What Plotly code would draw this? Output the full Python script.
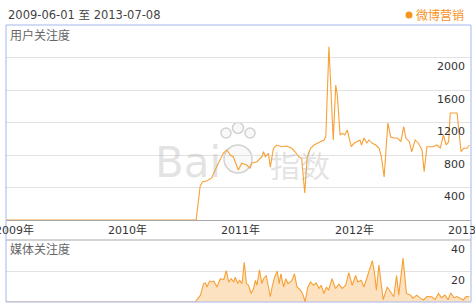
import plotly.graph_objects as go

# ---------------- data ----------------
user_dates = ["2009-06-01", "2011-02-08", "2011-02-21", "2011-03-01", "2011-03-14", "2011-03-25",
              "2011-03-30", "2011-04-15", "2011-04-26", "2011-05-07", "2011-05-18", "2011-05-29",
              "2011-06-08", "2011-06-24", "2011-07-05", "2011-07-21", "2011-08-01", "2011-08-06",
              "2011-08-23", "2011-09-08", "2011-09-13", "2011-09-19", "2011-09-29", "2011-10-05",
              "2011-10-15", "2011-10-26", "2011-11-11", "2011-11-27", "2011-12-13", "2011-12-24",
              "2012-01-05", "2012-01-14", "2012-01-24", "2012-02-01", "2012-02-12", "2012-02-23",
              "2012-03-05", "2012-03-15", "2012-03-26", "2012-04-01", "2012-04-11", "2012-04-25",
              "2012-05-03", "2012-05-08", "2012-05-17", "2012-05-24", "2012-06-01", "2012-06-09",
              "2012-06-15", "2012-06-22", "2012-07-01", "2012-07-12", "2012-07-20", "2012-07-25",
              "2012-08-02", "2012-08-11", "2012-08-18", "2012-08-29", "2012-09-09", "2012-09-20",
              "2012-09-27", "2012-10-06", "2012-10-18", "2012-10-27", "2012-11-06", "2012-11-18",
              "2012-11-29", "2012-12-08", "2012-12-15", "2012-12-26", "2013-01-03", "2013-01-14",
              "2013-01-24", "2013-02-05", "2013-02-12", "2013-02-21", "2013-03-03", "2013-03-13",
              "2013-03-25", "2013-04-05", "2013-04-15", "2013-04-24", "2013-05-02", "2013-05-07",
              "2013-05-29", "2013-06-03", "2013-06-11", "2013-06-19", "2013-06-30", "2013-07-08"]
user_values = [0, 0, 418, 471, 480, 501, 517, 656, 739, 825,
               862, 800, 776, 615, 698, 677, 636, 698, 718, 779,
               840, 779, 821, 650, 883, 923, 902, 911, 883, 840,
               779, 760, 332, 779, 883, 923, 944, 964, 985, 1025,
               2133, 985, 1662, 1539, 1046, 1067, 1046, 1108, 1025, 902,
               944, 964, 985, 923, 1009, 948, 985, 944, 923, 883,
               779, 529, 1194, 1022, 1009, 1009, 964, 1149, 1009, 964,
               840, 985, 948, 862, 595, 902, 902, 902, 923, 886,
               1046, 923, 964, 1317, 1317, 1108, 840, 883, 883, 923]

media_dates = ["2009-06-01", "2011-02-05", "2011-02-22", "2011-03-04", "2011-03-10", "2011-03-15",
               "2011-03-23", "2011-03-31", "2011-04-06", "2011-04-16", "2011-04-27", "2011-05-08",
               "2011-05-16", "2011-05-24", "2011-06-01", "2011-06-09", "2011-06-14", "2011-06-22",
               "2011-06-28", "2011-07-06", "2011-07-13", "2011-07-20", "2011-07-27", "2011-08-04",
               "2011-08-12", "2011-08-18", "2011-08-23", "2011-08-31", "2011-09-08", "2011-09-13",
               "2011-09-22", "2011-09-29", "2011-10-05", "2011-10-12", "2011-10-19", "2011-10-27",
               "2011-11-03", "2011-11-08", "2011-11-17", "2011-11-24", "2011-12-01", "2011-12-08",
               "2011-12-14", "2011-12-22", "2011-12-30", "2012-01-11", "2012-01-19", "2012-01-25",
               "2012-02-03", "2012-02-12", "2012-02-22", "2012-03-01", "2012-03-10", "2012-03-17",
               "2012-03-26", "2012-04-03", "2012-04-10", "2012-04-21", "2012-05-02", "2012-05-13",
               "2012-05-24", "2012-06-04", "2012-06-14", "2012-06-25", "2012-07-06", "2012-07-13",
               "2012-07-24", "2012-08-02", "2012-08-18", "2012-08-29", "2012-09-05", "2012-09-11",
               "2012-09-19", "2012-10-03", "2012-10-16", "2012-10-27", "2012-11-06", "2012-11-15",
               "2012-11-22", "2012-12-06", "2012-12-17", "2012-12-30", "2013-01-07", "2013-01-19",
               "2013-01-30", "2013-02-10", "2013-02-21", "2013-03-09", "2013-03-19", "2013-03-30",
               "2013-04-09", "2013-04-20", "2013-04-30", "2013-05-09", "2013-05-19", "2013-05-29",
               "2013-06-08", "2013-06-18", "2013-06-28", "2013-07-08"]
media_values = [0, 0, 4.4, 11.9, 12.3, 9.7, 13.5, 12.9, 13.5, 9.7, 15, 14.4,
                20.3, 12.9, 15, 12.9, 16, 11.9, 14, 11.9, 25.6, 11.9, 10.8, 5.5,
                8.7, 14, 10.8, 20.7, 11.9, 15, 17.1, 9.7, 3.4, 10.8, 16, 19.9,
                11.9, 18.2, 9.7, 15, 11.9, 12.9, 14, 18.2, 9.7, 7.6, 4.4, 0,
                9.7, 12.9, 10.8, 12.3, 8.7, 10.8, 5.5, 9.7, 7.6, 15, 8.7, 11.5,
                8.7, 10.8, 18.9, 10.8, 17.1, 12.9, 14, 9.7, 20.3, 26.7, 18.6, 7.6,
                23.9, 1.5, 9.7, 6.5, 3.4, 17.1, 4.4, 28.3, 5.5, 4.4, 2.5, 4.4,
                2.5, 1.3, 3.5, 3.4, 1.5, 5.5, 2.8, 4.5, 1.5, 5.8, 2.8, 3.5,
                2.5, 1.3, 3.5, 3.4]

year_ticks = ["2009-07-02", "2010-07-02", "2011-07-02", "2012-07-02", "2013-07-02"]
year_labels = ["2009年", "2010年", "2011年", "2012年", "2013年"]
user_ticks = [400, 800, 1200, 1600, 2000]
media_ticks = [20, 40]
date_range_text = "2009-06-01 至 2013-07-08"
series_name = "微博营销"

# ---------------- style ----------------
LINE = "#f7a035"
FILL = "#fde2c1"
GRID = "#e2e2e2"
FRAME = "#a4b7ec"
AXIS = "#a8a8a8"
NUM_FONT = dict(family="DejaVu Sans, Noto Sans CJK SC", size=11, color="#333333")
CJK = "Noto Sans CJK SC, DejaVu Sans"

W, H = 475, 307
ML, MR, MT, MB = 6, 4, 25, 5
PW, PH = W - ML - MR, H - MT - MB


def px(x):
    return (x - ML) / PW


def py(y):
    return (H - MB - y) / PH


x_range = ["2009-06-05", "2013-07-13"]
minor_grid = dict(tick0="2010-01-01", dtick="M12", showgrid=True, gridcolor=GRID, gridwidth=1, ticks="")

fig = go.Figure()
fig.add_trace(go.Scatter(x=user_dates, y=user_values, mode="lines", name=series_name,
                         line=dict(color=LINE, width=1.1), xaxis="x", yaxis="y", hoverinfo="skip"))
fig.add_trace(go.Scatter(x=media_dates, y=media_values, mode="lines", name=series_name,
                         line=dict(color=LINE, width=1.1), fill="tozeroy", fillcolor=FILL,
                         xaxis="x2", yaxis="y2", hoverinfo="skip"))

fig.update_layout(
    width=W, height=H, margin=dict(l=ML, r=MR, t=MT, b=MB, autoexpand=False),
    paper_bgcolor="white", plot_bgcolor="white", showlegend=False,
    xaxis=dict(domain=[0, 1], anchor="y", type="date", range=x_range, automargin=False,
               showticklabels=False,
               showgrid=False, ticks="", showline=True, linecolor=AXIS, linewidth=1,
               zeroline=False, minor=minor_grid),
    yaxis=dict(domain=[py(220), 1], anchor="x", range=[0, 2400], tickmode="array",
               automargin=False,
               tickvals=user_ticks, side="right", ticklabelposition="inside",
               ticklabelshift=9, ticklabelstandoff=3, ticks="",
               showgrid=True, gridcolor=GRID, zeroline=False, showline=False,
               tickfont=NUM_FONT),
    xaxis2=dict(domain=[0, 1], anchor="y2", type="date", range=x_range, automargin=False,
                showticklabels=False, showgrid=False, ticks="", showline=False,
                zeroline=False, minor=minor_grid),
    yaxis2=dict(domain=[0, py(240)], anchor="x2", range=[0, 40], tickmode="array",
                automargin=False,
                tickvals=media_ticks, side="right", ticklabelposition="inside",
                ticklabelshift=9, ticklabelstandoff=3, ticks="",
                showgrid=True, gridcolor=GRID, zeroline=False, showline=False,
                tickfont=NUM_FONT),
)

shapes = [
    # separator line above media panel
    dict(type="line", xref="paper", yref="paper", x0=0, x1=1, y0=py(240), y1=py(240),
         line=dict(color=AXIS, width=1), layer="above"),
    # outer frame
    dict(type="rect", xref="paper", yref="paper", x0=0, x1=1, y0=0, y1=1,
         line=dict(color=FRAME, width=1), fillcolor="rgba(0,0,0,0)", layer="above"),
    # legend dot
    dict(type="circle", xref="paper", yref="paper", x0=px(405.5), x1=px(412.5),
         y0=py(18.5), y1=py(11.5), fillcolor="#f7931e", line=dict(width=0), layer="above"),
]
# watermark paw
for cx, cy, r in [(226, 133, 5), (238, 128, 5.5), (250, 133, 5), (238, 159, 14)]:
    shapes.append(dict(type="circle", xref="paper", yref="paper", x0=px(cx - r), x1=px(cx + r),
                       y0=py(cy + r), y1=py(cy - r), fillcolor="rgba(245,245,245,0.6)",
                       line=dict(color="#d2d2d2", width=1.5), layer="below"))
fig.update_layout(shapes=shapes)

annotations = [
    dict(text=date_range_text, x=px(6), y=py(15), xref="paper", yref="paper",
         xanchor="left", yanchor="middle", showarrow=False,
         font=dict(family="DejaVu Sans, Noto Sans CJK SC", size=11.5, color="#444444")),
    dict(text=series_name, x=px(414), y=py(15), xref="paper", yref="paper",
         xanchor="left", yanchor="middle", showarrow=False,
         font=dict(family=CJK, size=12, color="#f7931e")),
    dict(text="用户关注度", x=px(8), y=py(35), xref="paper", yref="paper",
         xanchor="left", yanchor="middle", showarrow=False,
         font=dict(family=CJK, size=12, color="#666666")),
    dict(text="媒体关注度", x=px(8), y=py(249), xref="paper", yref="paper",
         xanchor="left", yanchor="middle", showarrow=False,
         font=dict(family=CJK, size=12, color="#666666")),
    # watermark
    dict(text="Bai", x=px(188), y=py(162), xref="paper", yref="paper",
         xanchor="center", yanchor="middle", showarrow=False,
         font=dict(family="DejaVu Sans", size=42, color="rgba(175,175,175,0.35)")),
    dict(text="指数", x=px(300), y=py(164), xref="paper", yref="paper",
         xanchor="center", yanchor="middle", showarrow=False,
         font=dict(family=CJK, size=30, color="rgba(175,175,175,0.35)")),
]
# year labels placed on the shared date axis (centred on mid-year)
for tv, tl in zip(year_ticks, year_labels):
    annotations.append(dict(text=tl, x=tv, xref="x", y=py(230), yref="paper",
                            xanchor="center", yanchor="middle", showarrow=False,
                            font=NUM_FONT))
fig.update_layout(annotations=annotations)

fig.write_html("out.html")
